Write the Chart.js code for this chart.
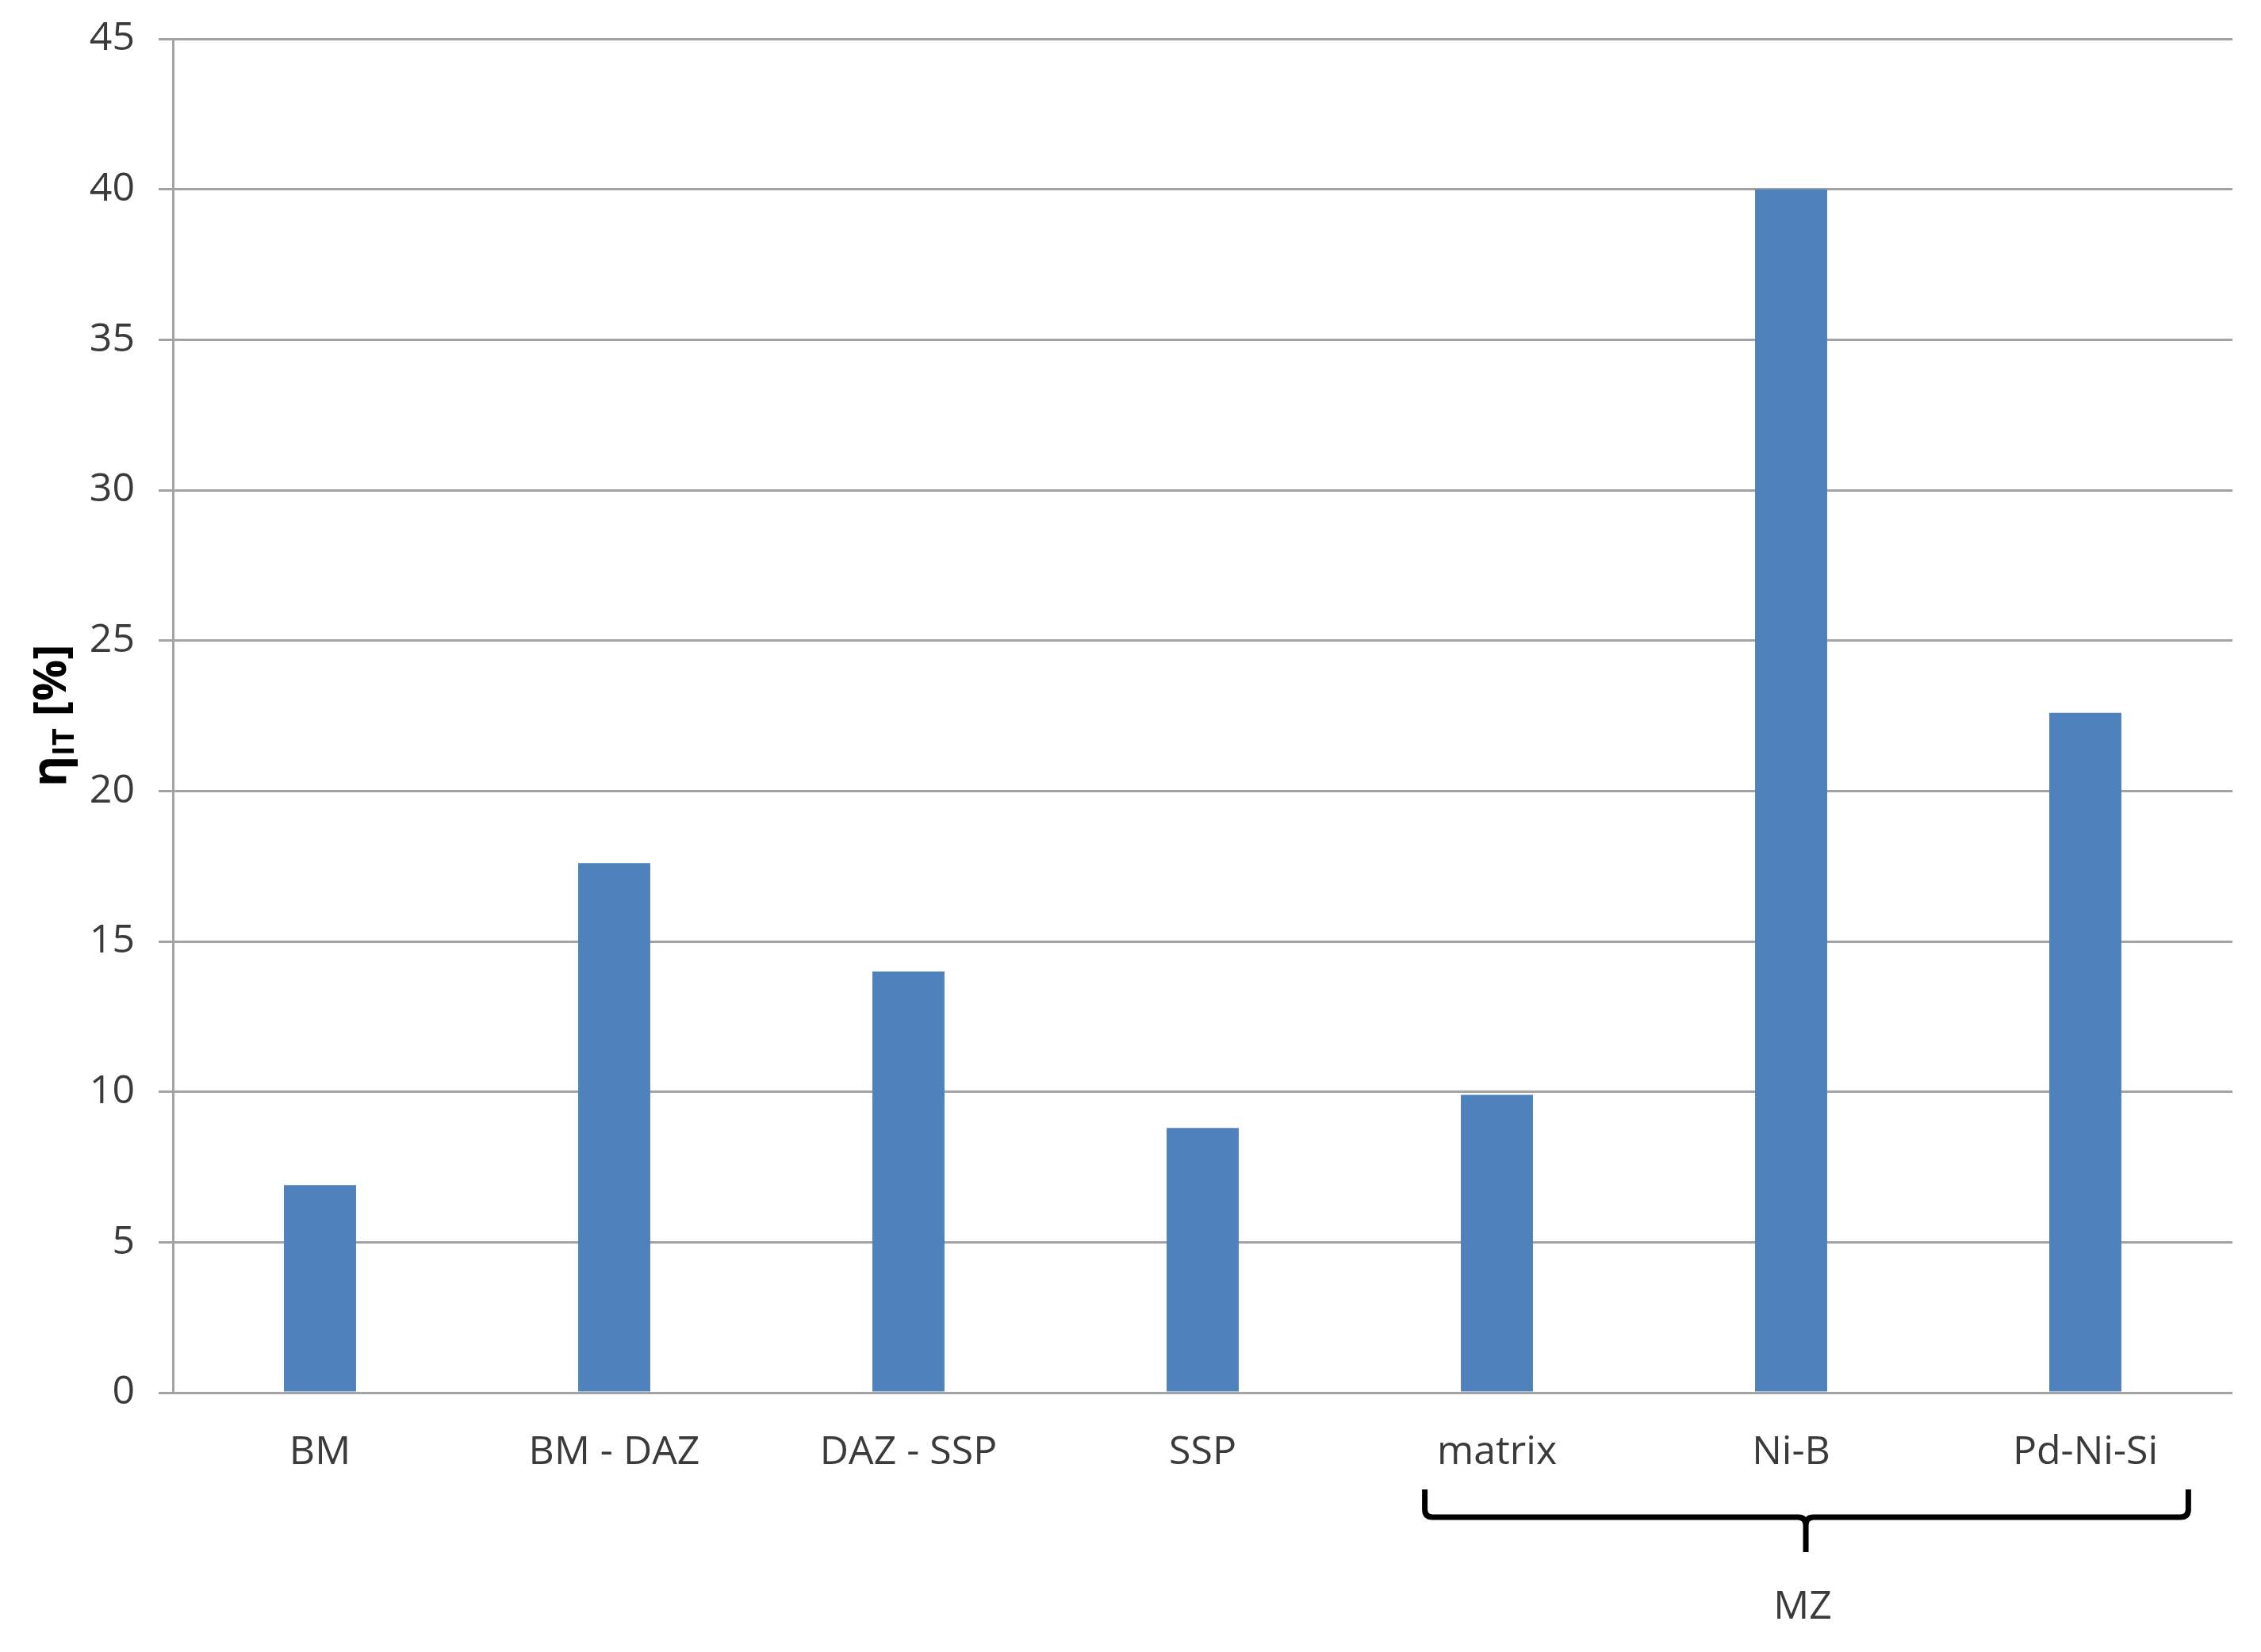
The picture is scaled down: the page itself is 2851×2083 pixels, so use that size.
<!DOCTYPE html>
<html>
<head>
<meta charset="utf-8">
<script src="https://cdn.jsdelivr.net/npm/chart.js@4"></script>
<style>
  html, body { margin: 0; padding: 0; background: #ffffff; }
  #wrap { width: 2851px; height: 2083px; position: relative; }
</style>
</head>
<body>
<div id="wrap"><canvas id="chart"></canvas></div>
<script>
// ---- data ----
const categories = ["BM", "BM - DAZ", "DAZ - SSP", "SSP", "matrix", "Ni-B", "Pd-Ni-Si"];
const etaValues = [6.9, 17.6, 14.0, 8.8, 9.9, 40.0, 22.6];
const yMin = 0;
const yMax = 45;
const yStep = 5;
// group bracket drawn under the axis
const groupLabel = "MZ";
const groupFrom = "matrix";
const groupTo = "Pd-Ni-Si";

const fontFamily = "'Open Sans', 'Liberation Sans', sans-serif";
const textColor = "#3a3a3a";
const gridColor = "#a3a3a3";

// Small plugin: rotated y title with subscript (eta_IT [%])
const yTitlePlugin = {
  id: "yTitle",
  afterDraw(chart) {
    const ctx = chart.ctx;
    const area = chart.chartArea;
    const cy = (area.top + area.bottom) / 2;
    const cx = 66;
    const parts = [
      { t: "η", size: 60, dy: 0 },
      { t: "IT", size: 38, dy: 16 },
      { t: " [%]", size: 58, dy: 0 }
    ];
    ctx.save();
    ctx.translate(cx, cy);
    ctx.rotate(-Math.PI / 2);
    ctx.fillStyle = "#000000";
    ctx.textBaseline = "middle";
    ctx.textAlign = "left";
    // measure total width
    let total = 0;
    parts.forEach(p => {
      ctx.font = "bold " + p.size + "px " + fontFamily;
      total += ctx.measureText(p.t).width;
    });
    let x = -total / 2;
    parts.forEach(p => {
      ctx.font = "bold " + p.size + "px " + fontFamily;
      ctx.fillText(p.t, x, p.dy);
      x += ctx.measureText(p.t).width;
    });
    ctx.restore();
  }
};

// Small plugin: curly bracket under the grouped categories
const bracePlugin = {
  id: "brace",
  afterDraw(chart) {
    const ctx = chart.ctx;
    const xs = chart.scales.x;
    const bottom = chart.chartArea.bottom;
    const i0 = categories.indexOf(groupFrom);
    const i1 = categories.indexOf(groupTo);
    const w = xs.getPixelForValue(1) - xs.getPixelForValue(0);
    const left = xs.getPixelForValue(i0) - 0.245 * w;
    const right = xs.getPixelForValue(i1) + 0.35 * w;
    const mid = xs.getPixelForValue((i0 + i1) / 2) + 0.05 * w;
    const yTop = bottom + 122;
    const yLine = bottom + 157;
    const yTip = bottom + 201;
    const r = 10;

    ctx.save();
    ctx.strokeStyle = "#000000";
    ctx.lineWidth = 7;
    ctx.lineJoin = "round";
    ctx.beginPath();
    ctx.moveTo(left, yTop);
    ctx.lineTo(left, yLine - r);
    ctx.quadraticCurveTo(left, yLine, left + r, yLine);
    ctx.lineTo(mid - r, yLine);
    ctx.quadraticCurveTo(mid, yLine, mid, yLine + r);
    ctx.lineTo(mid, yTip);
    ctx.moveTo(mid, yLine + r);
    ctx.quadraticCurveTo(mid, yLine, mid + r, yLine);
    ctx.lineTo(right - r, yLine);
    ctx.quadraticCurveTo(right, yLine, right, yLine - r);
    ctx.lineTo(right, yTop);
    ctx.stroke();

    ctx.fillStyle = textColor;
    ctx.font = "50px " + fontFamily;
    ctx.textAlign = "center";
    ctx.textBaseline = "middle";
    ctx.fillText(groupLabel, mid - 4, bottom + 271);
    ctx.restore();
  }
};

let canvas = document.getElementById("chart");

let data = {
  labels: categories,
  datasets: [{
    data: etaValues,
    backgroundColor: "#4f81bd",
    borderWidth: 0,
    barPercentage: 0.245,
    categoryPercentage: 1.0
  }]
};

let options = {
  responsive: false,
  animation: false,
  maintainAspectRatio: false,
  layout: { padding: { top: 49, right: 36, left: 0, bottom: 0 } },
  plugins: {
    legend: { display: false },
    tooltip: { enabled: false }
  },
  scales: {
    x: {
      grid: { display: false },
      border: { display: false },
      ticks: {
        color: textColor,
        font: { family: fontFamily, size: 50 },
        padding: 38,
        maxRotation: 0,
        autoSkip: false
      },
      afterFit(scale) {
        scale.height = 2083 - 1756;
        scale.paddingLeft = 0;
        scale.paddingRight = 0;
      }
    },
    y: {
      min: yMin,
      max: yMax,
      grid: {
        color: gridColor,
        lineWidth: 3,
        tickLength: 18,
        drawTicks: true
      },
      border: { display: true, color: gridColor, width: 3 },
      ticks: {
        stepSize: yStep,
        color: textColor,
        font: { family: fontFamily, size: 50 },
        padding: 30
      },
      afterFit(scale) {
        scale.width = 218;
        // let the top label overhang instead of pushing the plot down
        scale.paddingTop = 0;
        scale.paddingBottom = 0;
      }
    }
  }
};

canvas.width = 2851;
canvas.height = 2083;

let chart = new Chart(canvas, {
  type: "bar",
  data: data,
  options: options,
  plugins: [yTitlePlugin, bracePlugin]
});
</script>
</body>
</html>
